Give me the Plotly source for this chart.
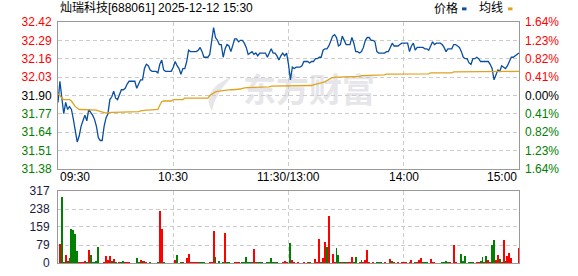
import plotly.graph_objects as go

# ---------------- data ----------------
time_labels = ["09:30", "10:30", "11:30/13:00", "14:00", "15:00"]
time_label_pos = [0, 60, 120, 180, 240]

price = [
    31.85, 32.00, 31.88, 31.77, 31.85, 31.80, 31.82, 31.80, 31.73, 31.65,
    31.57, 31.61, 31.68, 31.72, 31.76, 31.72, 31.80, 31.78, 31.76, 31.73,
    31.68, 31.60, 31.58, 31.58, 31.68, 31.74, 31.77, 31.87, 31.89, 31.93,
    31.88, 31.87, 31.91, 31.94, 31.94, 31.95, 31.98, 32.00, 32.00, 32.00,
    32.00, 31.95, 31.98, 32.01, 32.01, 32.09, 32.12, 32.11, 32.08, 32.07,
    32.07, 32.07, 32.06, 32.12, 32.15, 32.08, 32.07, 32.07, 32.07, 32.07,
    32.10, 32.14, 32.11, 32.09, 32.05, 32.09, 32.09, 32.14, 32.22, 32.21,
    32.21, 32.21, 32.21, 32.22, 32.24, 32.21, 32.17, 32.17, 32.17, 32.19,
    32.30, 32.38, 32.31, 32.29, 32.26, 32.26, 32.17, 32.23, 32.26, 32.25,
    32.21, 32.25, 32.30, 32.30, 32.28, 32.29, 32.29, 32.27, 32.24, 32.19,
    32.20, 32.21, 32.19, 32.20, 32.18, 32.20, 32.20, 32.20, 32.20, 32.17,
    32.20, 32.23, 32.20, 32.20, 32.18, 32.15, 32.18, 32.20, 32.18, 32.20,
    32.12, 32.01, 32.10, 32.09, 32.10, 32.10, 32.10, 32.11, 32.14, 32.14,
    32.14, 32.13, 32.14, 32.14, 32.16, 32.16, 32.17, 32.17, 32.22, 32.23,
    32.23, 32.25, 32.29, 32.32, 32.33, 32.31, 32.25, 32.26, 32.32, 32.29,
    32.26, 32.26, 32.26, 32.31, 32.27, 32.21, 32.21, 32.20, 32.21, 32.24,
    32.29, 32.31, 32.31, 32.29, 32.29, 32.28, 32.21, 32.20, 32.20, 32.20,
    32.20, 32.21, 32.21, 32.24, 32.27, 32.25, 32.25, 32.25, 32.26, 32.27,
    32.27, 32.27, 32.27, 32.21, 32.25, 32.27, 32.22, 32.24, 32.24, 32.24,
    32.24, 32.23, 32.23, 32.22, 32.25, 32.28, 32.26, 32.27, 32.27, 32.27,
    32.26, 32.24, 32.21, 32.23, 32.23, 32.23, 32.26, 32.26, 32.25, 32.24,
    32.21, 32.17, 32.16, 32.16, 32.13, 32.12, 32.16, 32.16, 32.17, 32.16,
    32.14, 32.14, 32.14, 32.14, 32.14, 32.12, 32.09, 32.01, 32.05, 32.08,
    32.07, 32.11, 32.10, 32.09, 32.11, 32.14, 32.17, 32.17, 32.18, 32.19,
    32.20,
]

avg_price = [
    31.91, 31.90, 31.88, 31.87, 31.87, 31.87, 31.87, 31.86, 31.84, 31.82,
    31.81, 31.80, 31.80, 31.80, 31.80, 31.80, 31.80, 31.80, 31.80, 31.80,
    31.795, 31.79, 31.785, 31.78, 31.775, 31.775, 31.777, 31.78, 31.78, 31.78,
    31.78, 31.78, 31.78, 31.78, 31.78, 31.78, 31.78, 31.78, 31.78, 31.78,
    31.78, 31.783, 31.785, 31.79, 31.793, 31.795, 31.795, 31.795, 31.795, 31.795,
    31.795, 31.795, 31.80, 31.83, 31.855, 31.86, 31.86, 31.86, 31.86, 31.86,
    31.87, 31.87, 31.87, 31.87, 31.87, 31.87, 31.88, 31.88, 31.88, 31.88,
    31.88, 31.88, 31.88, 31.88, 31.88, 31.88, 31.88, 31.88, 31.88, 31.90,
    31.91, 31.915, 31.925, 31.928, 31.93, 31.935, 31.935, 31.935, 31.94, 31.94,
    31.94, 31.94, 31.94, 31.94, 31.94, 31.945, 31.95, 31.955, 31.955, 31.955,
    31.955, 31.96, 31.96, 31.96, 31.96, 31.96, 31.96, 31.96, 31.96, 31.96,
    31.96, 31.965, 31.965, 31.965, 31.965, 31.965, 31.965, 31.965, 31.97, 31.97,
    31.97, 31.97, 31.97, 31.97, 31.97, 31.97, 31.97, 31.97, 31.97, 31.97,
    31.97, 31.97, 31.97, 31.975, 31.978, 31.98, 31.985, 31.988, 31.99, 31.995,
    32.005, 32.015, 32.02, 32.025, 32.03, 32.03, 32.03, 32.03, 32.03, 32.03,
    32.03, 32.035, 32.035, 32.035, 32.035, 32.035, 32.035, 32.035, 32.04, 32.04,
    32.04, 32.04, 32.04, 32.04, 32.04, 32.04, 32.045, 32.045, 32.045, 32.045,
    32.045, 32.05, 32.05, 32.05, 32.05, 32.05, 32.05, 32.05, 32.05, 32.05,
    32.05, 32.053, 32.053, 32.053, 32.053, 32.053, 32.053, 32.053, 32.053, 32.053,
    32.053, 32.053, 32.053, 32.053, 32.06, 32.06, 32.06, 32.06, 32.06, 32.06,
    32.06, 32.06, 32.06, 32.06, 32.06, 32.06, 32.066, 32.066, 32.066, 32.066,
    32.066, 32.066, 32.066, 32.066, 32.066, 32.066, 32.066, 32.066, 32.066, 32.066,
    32.066, 32.066, 32.066, 32.066, 32.07, 32.07, 32.07, 32.07, 32.07, 32.07,
    32.07, 32.07, 32.07, 32.07, 32.07, 32.07, 32.07, 32.07, 32.07, 32.07,
    32.07,
]

# volume bars (sparse): minute index, volume, direction (1 = up/red, 0 = down/green)
vol_minute = [
    1, 2, 3, 4, 5, 6, 7, 8, 9, 10, 11, 12, 13, 14, 15, 16, 17, 18, 19, 20,
    21, 24, 25, 26, 27, 28, 29, 30, 32, 33, 34, 35, 36, 37, 41, 42, 43, 44, 45, 46,
    48, 52, 53, 54, 55, 61, 62, 64, 65, 67, 68, 69, 70, 71, 72, 73, 74, 75, 76, 79,
    80, 81, 82, 84, 86, 87, 88, 89, 92, 93, 94, 96, 97, 98, 99, 100, 101, 102, 103, 104,
    105, 106, 109, 110, 111, 112, 113, 114, 117, 118, 119,
    121, 122, 123, 125, 128, 130, 131, 134, 135, 136, 137, 138, 139, 140, 141, 143, 144, 145, 146, 147,
    148, 149, 150, 151, 152, 153, 154, 155, 157, 158, 159, 160, 161, 162, 164, 166, 167, 168, 170, 173,
    174, 175, 177, 179, 180, 181, 183, 184, 186, 187, 188, 189, 190, 191, 192, 194, 195, 196, 200, 201,
    202, 203, 204, 206, 207, 210, 211, 212, 214, 215, 216, 218, 219, 220, 221, 222, 223, 224, 225, 226,
    227, 228, 229, 230, 231, 232, 233, 234, 235, 236, 240,
]
vol_value = [
    82, 291, 3, 34, 10, 22, 151, 146, 129, 52, 4, 4, 4, 8, 4, 56, 34, 4, 4, 8,
    69, 4, 30, 13, 30, 6, 17, 4, 4, 4, 8, 4, 4, 4, 22, 4, 13, 7, 8, 4,
    4, 4, 229, 151, 4, 13, 34, 4, 4, 22, 40, 4, 4, 4, 4, 4, 4, 4, 4, 4,
    4, 142, 26, 8, 4, 132, 4, 4, 4, 4, 4, 4, 4, 26, 4, 4, 4, 60, 4, 4,
    4, 4, 4, 4, 22, 4, 4, 4, 4, 8, 4,
    86, 11, 4, 4, 4, 4, 4, 17, 4, 107, 4, 21, 94, 69, 207, 39, 4, 64, 34, 4,
    4, 4, 4, 4, 4, 26, 4, 26, 4, 13, 4, 13, 56, 4, 4, 4, 4, 4, 4, 17,
    9, 4, 4, 4, 4, 4, 4, 13, 4, 4, 13, 21, 4, 4, 4, 17, 4, 4, 4, 4,
    9, 4, 4, 79, 4, 39, 9, 30, 4, 4, 4, 4, 4, 9, 26, 4, 30, 13, 4, 81,
    99, 13, 34, 17, 4, 103, 9, 30, 43, 21, 64,
]
vol_up = [
    1, 0, 0, 1, 0, 1, 0, 0, 0, 0, 1, 1, 1, 1, 0, 1, 0, 0, 0, 0,
    0, 1, 1, 1, 1, 0, 1, 0, 1, 0, 0, 1, 1, 1, 0, 0, 1, 0, 1, 1,
    0, 0, 1, 1, 0, 1, 0, 0, 1, 1, 1, 1, 1, 1, 1, 1, 0, 0, 0, 1,
    1, 1, 0, 0, 0, 1, 0, 0, 1, 1, 1, 0, 0, 0, 0, 0, 0, 1, 1, 0,
    0, 0, 0, 0, 0, 0, 0, 0, 1, 1, 1,
    0, 1, 1, 1, 1, 1, 0, 1, 1, 1, 0, 1, 1, 0, 1, 1, 1, 0, 0, 0,
    1, 0, 0, 1, 1, 1, 0, 0, 1, 0, 1, 1, 1, 1, 1, 0, 0, 0, 1, 1,
    0, 1, 1, 1, 1, 1, 0, 1, 0, 1, 1, 1, 0, 0, 0, 1, 1, 1, 0, 0,
    0, 0, 1, 1, 1, 0, 0, 0, 0, 0, 0, 1, 1, 0, 0, 1, 0, 1, 1, 0,
    0, 1, 1, 0, 1, 1, 0, 1, 1, 1, 1,
]

price_ticks = [31.38, 31.51, 31.64, 31.77, 31.90, 32.03, 32.16, 32.29, 32.42]
pct_labels = ["1.64%", "1.23%", "0.82%", "0.41%", "0.00%", "0.41%", "0.82%", "1.23%", "1.64%"]
prev_close = 31.90
vol_ticks = [0, 79, 159, 238, 317]

title_text = "灿瑞科技[688061] 2025-12-12 15:30"

# ---------------- styling / layout ----------------
W, H = 578, 276
ML, MR, MT, MB = 58, 59, 22, 6
PW, PH = W - ML - MR, H - MT - MB

def pyp(p):  # pixel y -> paper
    return (H - MB - p) / PH

def pxp(p):  # pixel x -> paper
    return (p - ML) / PW

RED, GREEN, BLACK = "#ff0000", "#008000", "#000000"
BLUE_LINE, AVG_LINE = "#0a4f9f", "#e0a31e"
GRID = "#cccccc"
BORDER = "#999999"
FONT = "Liberation Sans, Noto Sans CJK SC, sans-serif"

def tick_color(v):
    if abs(v - prev_close) < 1e-9:
        return BLACK
    return RED if v > prev_close else GREEN

left_text = [f'<span style="color:{tick_color(v)}">{v:.2f}</span>' for v in price_ticks]
right_text = [f'<span style="color:{tick_color(v)}">{t}</span>' for v, t in zip(price_ticks, pct_labels)]

minutes = list(range(len(price)))

fig = go.Figure()
fig.add_trace(go.Scatter(x=minutes, y=price, mode="lines", line=dict(color=BLUE_LINE, width=1.3),
                         xaxis="x", yaxis="y", hoverinfo="skip", showlegend=False))
fig.add_trace(go.Scatter(x=minutes, y=avg_price, mode="lines", line=dict(color=AVG_LINE, width=1.3),
                         xaxis="x", yaxis="y", hoverinfo="skip", showlegend=False))
fig.add_trace(go.Scatter(x=minutes, y=price, mode="lines", line=dict(color="rgba(0,0,0,0)", width=0),
                         xaxis="x", yaxis="y2", hoverinfo="skip", showlegend=False))
fig.add_trace(go.Bar(x=vol_minute, y=vol_value, width=0.5,
                     marker=dict(color=[RED if u else GREEN for u in vol_up], line=dict(width=0)),
                     xaxis="x2", yaxis="y3", hoverinfo="skip", showlegend=False))

main_dom = [pyp(173), 1]
vol_dom = [0, pyp(196)]

common_x = dict(range=[0, 240], tickvals=[60, 120, 180], showticklabels=False, showgrid=True,
                gridcolor=GRID, griddash="4px,3px", gridwidth=1, zeroline=False, showline=True,
                mirror=True, linecolor=BORDER, linewidth=1, ticks="", fixedrange=True)

fig.update_layout(
    width=W, height=H, margin=dict(l=ML, r=MR, t=MT, b=MB, pad=0),
    paper_bgcolor="white", plot_bgcolor="white", showlegend=False,
    font=dict(family=FONT, size=12, color=BLACK),
    bargap=0,
    xaxis=dict(domain=[0, 1], anchor="y", **common_x),
    xaxis2=dict(domain=[0, 1], anchor="y3", **common_x),
    yaxis=dict(domain=main_dom, range=[price_ticks[0], price_ticks[-1]], tickvals=price_ticks,
               ticktext=left_text, showgrid=True, gridcolor=GRID, griddash="4px,3px", zeroline=False,
               showline=True, mirror=True, linecolor=BORDER, linewidth=1, ticks="",
               ticklabelstandoff=3, tickfont=dict(family=FONT, size=12), anchor="x"),
    yaxis2=dict(overlaying="y", side="right", anchor="x", range=[price_ticks[0], price_ticks[-1]],
                tickvals=price_ticks, ticktext=right_text, showgrid=False, zeroline=False,
                showline=False, ticks="", ticklabelstandoff=5, tickfont=dict(family=FONT, size=12)),
    yaxis3=dict(domain=vol_dom, anchor="x2", range=[0, vol_ticks[-1]], tickvals=vol_ticks,
                ticktext=[str(v) for v in vol_ticks], showgrid=True, gridcolor=GRID, griddash="4px,3px",
                zeroline=False, showline=True, mirror=True, linecolor=BORDER, linewidth=1, ticks="",
                ticklabelstandoff=5, tickfont=dict(family=FONT, size=12, color="#1a1a40")),
)

ann = []
# title
ann.append(dict(text=title_text, x=pxp(58), y=pyp(8), xref="paper", yref="paper",
                xanchor="left", yanchor="middle", showarrow=False,
                font=dict(family=FONT, size=12, color=BLACK)))
# legend
ann.append(dict(text="价格", x=pxp(432), y=pyp(8), xref="paper", yref="paper", xanchor="left",
                yanchor="middle", showarrow=False, font=dict(family=FONT, size=12, color=BLACK)))
ann.append(dict(text="均线", x=pxp(477), y=pyp(8), xref="paper", yref="paper", xanchor="left",
                yanchor="middle", showarrow=False, font=dict(family=FONT, size=12, color=BLACK)))
# time labels
for i, (lab, pos) in enumerate(zip(time_labels, time_label_pos)):
    xa = "left" if i == 0 else ("right" if i == len(time_labels) - 1 else "center")
    ann.append(dict(text=lab, x=pos, xref="x", y=pyp(182), yref="paper", xanchor=xa,
                    yanchor="middle", showarrow=False, font=dict(family=FONT, size=12, color=BLACK)))
fig.update_layout(annotations=ann)

shapes = [
    dict(type="rect", xref="paper", yref="paper", x0=pxp(462), x1=pxp(466.5), y0=pyp(10), y1=pyp(7),
         fillcolor="#0a4f9f", line=dict(width=0)),
    dict(type="rect", xref="paper", yref="paper", x0=pxp(508), x1=pxp(512.5), y0=pyp(10), y1=pyp(7),
         fillcolor="#e0a31e", line=dict(width=0)),
    # watermark
    dict(type="rect", xref="paper", yref="paper", x0=pxp(236), x1=pxp(382), y0=pyp(114), y1=pyp(76),
         layer="below", fillcolor="rgba(0,0,0,0)", line=dict(width=0),
         label=dict(text="<b>东方财富</b>", textposition="middle center",
                    font=dict(family="Noto Sans CJK SC", size=33, color="#e6e6ea"))),
    dict(type="path", xref="paper", yref="paper", layer="below",
         path=(f"M {pxp(232)},{pyp(78)} Q {pxp(200)},{pyp(92)} {pxp(212)},{pyp(114)} "
               f"Q {pxp(214)},{pyp(98)} {pxp(232)},{pyp(78)} Z"),
         fillcolor="#e6e6ea", line=dict(width=0)),
]
fig.update_layout(shapes=shapes)

fig.write_html("out.html", include_plotlyjs=True, config={"displayModeBar": False})
